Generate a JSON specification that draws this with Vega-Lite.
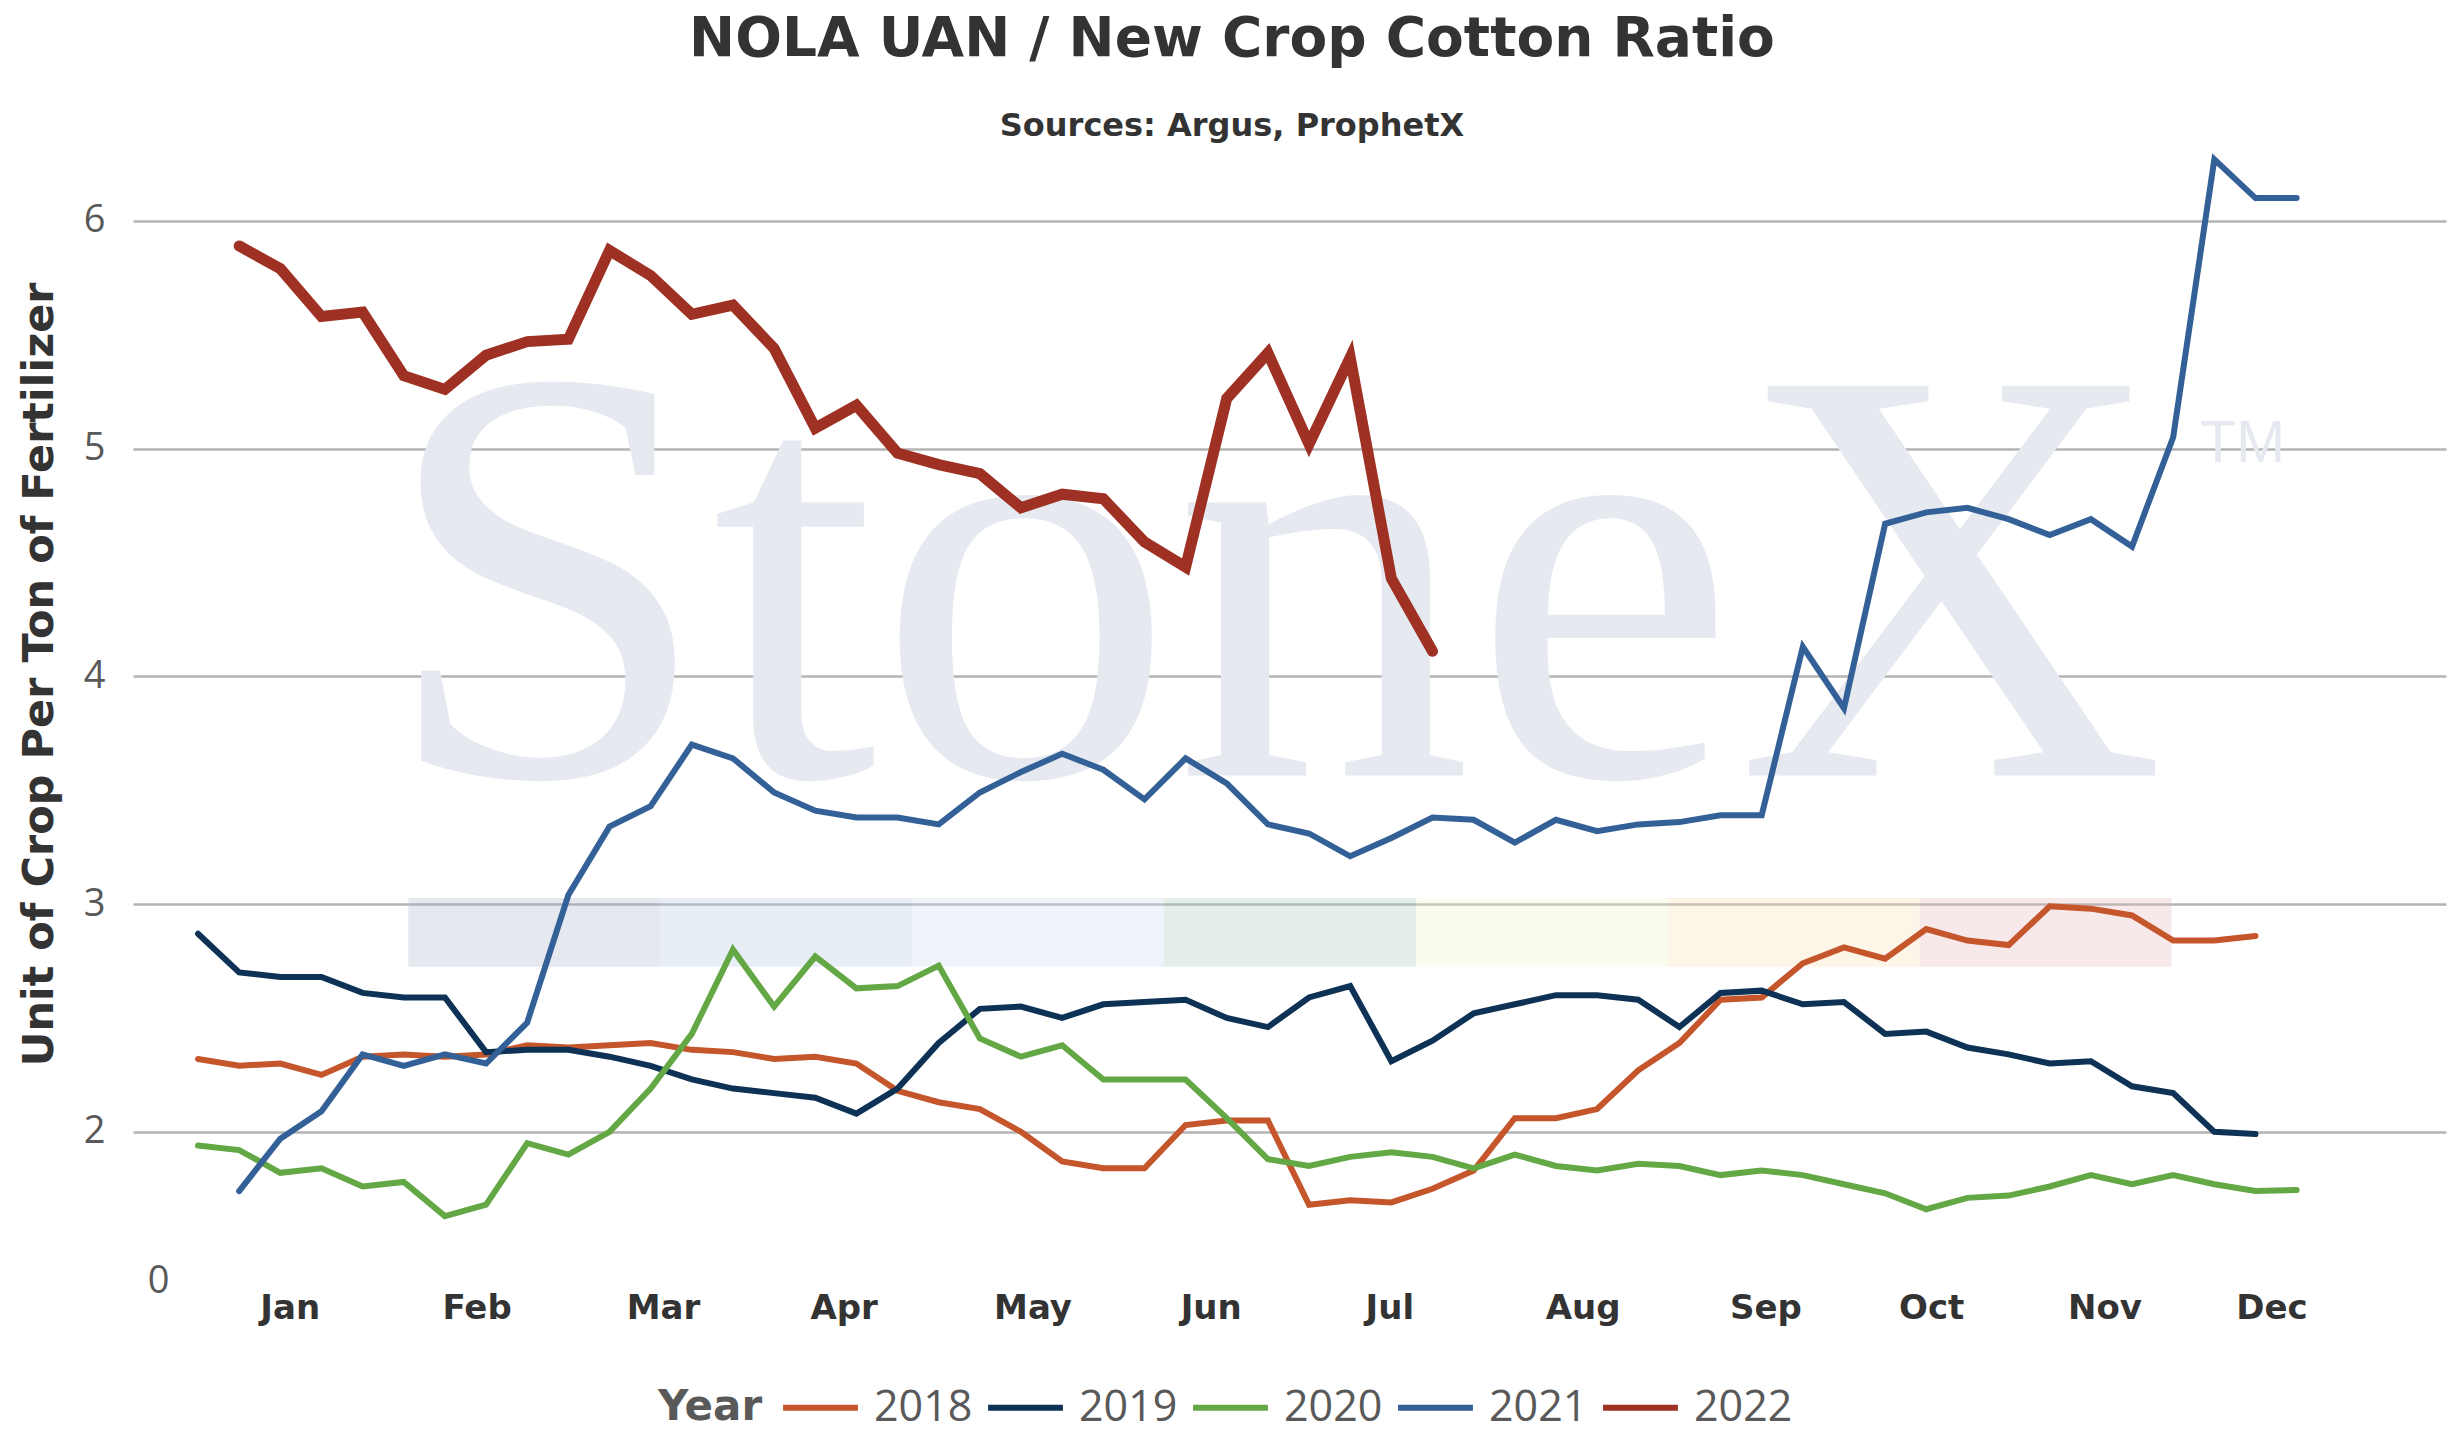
{
  "$schema": "https://vega.github.io/schema/vega-lite/v6.json",
  "autosize": "none",
  "width": 2313,
  "height": 1133,
  "padding": {"left": 133, "top": 148, "right": 10, "bottom": 176},
  "background": "#ffffff",
  "title": {
    "text": "NOLA UAN / New Crop Cotton Ratio",
    "subtitle": "Sources: Argus, ProphetX",
    "font": "DejaVu Sans",
    "fontSize": 55,
    "fontWeight": "bold",
    "color": "#333333",
    "subtitleFont": "DejaVu Sans",
    "subtitleFontSize": 32,
    "subtitleFontWeight": "bold",
    "subtitleColor": "#333333",
    "subtitlePadding": 43,
    "anchor": "middle",
    "frame": "bounds",
    "offset": 4
  },
  "config": {
    "view": {"stroke": null},
    "axis": {"domain": false, "ticks": false}
  },
  "datasets": {
    "ratios": [
      {"week": 1, "2018": 2.32, "2019": 2.87, "2020": 1.94, "2021": null, "2022": null},
      {"week": 2, "2018": 2.29, "2019": 2.70, "2020": 1.92, "2021": 1.74, "2022": 5.89},
      {"week": 3, "2018": 2.30, "2019": 2.68, "2020": 1.82, "2021": 1.97, "2022": 5.79},
      {"week": 4, "2018": 2.25, "2019": 2.68, "2020": 1.84, "2021": 2.09, "2022": 5.58},
      {"week": 5, "2018": 2.33, "2019": 2.61, "2020": 1.76, "2021": 2.34, "2022": 5.60},
      {"week": 6, "2018": 2.34, "2019": 2.59, "2020": 1.78, "2021": 2.29, "2022": 5.32},
      {"week": 7, "2018": 2.33, "2019": 2.59, "2020": 1.63, "2021": 2.34, "2022": 5.26},
      {"week": 8, "2018": 2.34, "2019": 2.35, "2020": 1.68, "2021": 2.30, "2022": 5.41},
      {"week": 9, "2018": 2.38, "2019": 2.36, "2020": 1.95, "2021": 2.48, "2022": 5.47},
      {"week": 10, "2018": 2.37, "2019": 2.36, "2020": 1.90, "2021": 3.04, "2022": 5.48},
      {"week": 11, "2018": 2.38, "2019": 2.33, "2020": 2.00, "2021": 3.34, "2022": 5.87},
      {"week": 12, "2018": 2.39, "2019": 2.29, "2020": 2.19, "2021": 3.43, "2022": 5.76},
      {"week": 13, "2018": 2.36, "2019": 2.23, "2020": 2.43, "2021": 3.70, "2022": 5.59},
      {"week": 14, "2018": 2.35, "2019": 2.19, "2020": 2.80, "2021": 3.64, "2022": 5.63},
      {"week": 15, "2018": 2.32, "2019": 2.17, "2020": 2.55, "2021": 3.49, "2022": 5.44},
      {"week": 16, "2018": 2.33, "2019": 2.15, "2020": 2.77, "2021": 3.41, "2022": 5.09},
      {"week": 17, "2018": 2.30, "2019": 2.08, "2020": 2.63, "2021": 3.38, "2022": 5.19},
      {"week": 18, "2018": 2.18, "2019": 2.19, "2020": 2.64, "2021": 3.38, "2022": 4.98},
      {"week": 19, "2018": 2.13, "2019": 2.39, "2020": 2.73, "2021": 3.35, "2022": 4.93},
      {"week": 20, "2018": 2.10, "2019": 2.54, "2020": 2.41, "2021": 3.49, "2022": 4.89},
      {"week": 21, "2018": 2.00, "2019": 2.55, "2020": 2.33, "2021": 3.58, "2022": 4.74},
      {"week": 22, "2018": 1.87, "2019": 2.50, "2020": 2.38, "2021": 3.66, "2022": 4.80},
      {"week": 23, "2018": 1.84, "2019": 2.56, "2020": 2.23, "2021": 3.59, "2022": 4.78},
      {"week": 24, "2018": 1.84, "2019": 2.57, "2020": 2.23, "2021": 3.46, "2022": 4.59},
      {"week": 25, "2018": 2.03, "2019": 2.58, "2020": 2.23, "2021": 3.64, "2022": 4.48},
      {"week": 26, "2018": 2.05, "2019": 2.50, "2020": 2.06, "2021": 3.53, "2022": 5.22},
      {"week": 27, "2018": 2.05, "2019": 2.46, "2020": 1.88, "2021": 3.35, "2022": 5.42},
      {"week": 28, "2018": 1.68, "2019": 2.59, "2020": 1.85, "2021": 3.31, "2022": 5.02},
      {"week": 29, "2018": 1.70, "2019": 2.64, "2020": 1.89, "2021": 3.21, "2022": 5.40},
      {"week": 30, "2018": 1.69, "2019": 2.31, "2020": 1.91, "2021": 3.29, "2022": 4.43},
      {"week": 31, "2018": 1.75, "2019": 2.40, "2020": 1.89, "2021": 3.38, "2022": 4.11},
      {"week": 32, "2018": 1.83, "2019": 2.52, "2020": 1.84, "2021": 3.37, "2022": null},
      {"week": 33, "2018": 2.06, "2019": 2.56, "2020": 1.90, "2021": 3.27, "2022": null},
      {"week": 34, "2018": 2.06, "2019": 2.60, "2020": 1.85, "2021": 3.37, "2022": null},
      {"week": 35, "2018": 2.10, "2019": 2.60, "2020": 1.83, "2021": 3.32, "2022": null},
      {"week": 36, "2018": 2.27, "2019": 2.58, "2020": 1.86, "2021": 3.35, "2022": null},
      {"week": 37, "2018": 2.39, "2019": 2.46, "2020": 1.85, "2021": 3.36, "2022": null},
      {"week": 38, "2018": 2.58, "2019": 2.61, "2020": 1.81, "2021": 3.39, "2022": null},
      {"week": 39, "2018": 2.59, "2019": 2.62, "2020": 1.83, "2021": 3.39, "2022": null},
      {"week": 40, "2018": 2.74, "2019": 2.56, "2020": 1.81, "2021": 4.13, "2022": null},
      {"week": 41, "2018": 2.81, "2019": 2.57, "2020": 1.77, "2021": 3.86, "2022": null},
      {"week": 42, "2018": 2.76, "2019": 2.43, "2020": 1.73, "2021": 4.67, "2022": null},
      {"week": 43, "2018": 2.89, "2019": 2.44, "2020": 1.66, "2021": 4.72, "2022": null},
      {"week": 44, "2018": 2.84, "2019": 2.37, "2020": 1.71, "2021": 4.74, "2022": null},
      {"week": 45, "2018": 2.82, "2019": 2.34, "2020": 1.72, "2021": 4.69, "2022": null},
      {"week": 46, "2018": 2.99, "2019": 2.30, "2020": 1.76, "2021": 4.62, "2022": null},
      {"week": 47, "2018": 2.98, "2019": 2.31, "2020": 1.81, "2021": 4.69, "2022": null},
      {"week": 48, "2018": 2.95, "2019": 2.20, "2020": 1.77, "2021": 4.57, "2022": null},
      {"week": 49, "2018": 2.84, "2019": 2.17, "2020": 1.81, "2021": 5.05, "2022": null},
      {"week": 50, "2018": 2.84, "2019": 2.00, "2020": 1.77, "2021": 6.27, "2022": null},
      {"week": 51, "2018": 2.86, "2019": 1.99, "2020": 1.74, "2021": 6.10, "2022": null},
      {"week": 52, "2018": null, "2019": null, "2020": 1.745, "2021": 6.10, "2022": null}
    ],
    "bands": [
      {"seg": "a", "start": 6.11, "end": 12.22},
      {"seg": "b", "start": 12.22, "end": 18.35},
      {"seg": "c", "start": 18.35, "end": 24.47},
      {"seg": "d", "start": 24.47, "end": 30.6},
      {"seg": "e", "start": 30.6, "end": 36.72},
      {"seg": "f", "start": 36.72, "end": 42.84},
      {"seg": "g", "start": 42.84, "end": 48.96}
    ]
  },
  "layer": [
    {
      "data": {"values": [{"mark": "StoneX", "week": 27.13, "ratio": 3.565}]},
      "mark": {"type": "text", "font": "Liberation Serif", "fontSize": 595, "color": "#e6eaf0", "align": "center", "baseline": "alphabetic"},
      "encoding": {
        "x": {"field": "week", "type": "quantitative", "scale": {"domain": [-0.58, 55.63], "nice": false, "zero": false}},
        "y": {"field": "ratio", "type": "quantitative", "scale": {"domain": [1.345, 6.32], "nice": false, "zero": false}},
        "text": {"field": "mark"}
      }
    },
    {
      "data": {"values": [{"mark": "TM", "week": 49.65, "ratio": 4.94}]},
      "mark": {"type": "text", "font": "Liberation Sans", "fontSize": 59, "color": "#e6eaf0", "align": "left", "baseline": "alphabetic"},
      "encoding": {
        "x": {"field": "week", "type": "quantitative"},
        "y": {"field": "ratio", "type": "quantitative"},
        "text": {"field": "mark"}
      }
    },
    {
      "data": {"name": "bands"},
      "mark": {"type": "rect", "fillOpacity": 0.3, "strokeWidth": 0},
      "encoding": {
        "x": {"field": "start", "type": "quantitative"},
        "x2": {"field": "end"},
        "y": {"datum": 3.027, "type": "quantitative"},
        "y2": {"datum": 2.725},
        "fill": {
          "field": "seg",
          "type": "nominal",
          "legend": null,
          "scale": {
            "domain": ["a", "b", "c", "d", "e", "f", "g"],
            "range": ["#a8b6ca", "#b2c6e1", "#cadaee", "#a8cab9", "#f2f2ca", "#f8deb2", "#e4b2b6"]
          }
        }
      }
    },
    {
      "data": {"name": "ratios"},
      "transform": [
        {"fold": ["2018", "2019", "2020", "2021", "2022"], "as": ["Year", "ratio"]},
        {"filter": "datum.ratio != null"}
      ],
      "mark": {"type": "line", "strokeCap": "round"},
      "encoding": {
        "x": {
          "field": "week",
          "type": "quantitative",
          "axis": {
            "title": null,
            "grid": false,
            "values": [3.23, 7.77, 12.3, 16.69, 21.28, 25.61, 29.95, 34.65, 39.09, 43.12, 47.33, 51.39],
            "labelExpr": "['Jan','Feb','Mar','Apr','May','Jun','Jul','Aug','Sep','Oct','Nov','Dec'][floor((datum.value - 1) / 4.35)]",
            "labelFont": "DejaVu Sans",
            "labelFontSize": 34,
            "labelFontWeight": "bold",
            "labelColor": "#333333",
            "labelBaseline": "middle",
            "labelPadding": 27,
            "labelFlush": false,
            "labelOverlap": false
          }
        },
        "y": {
          "field": "ratio",
          "type": "quantitative",
          "axis": {
            "title": "Unit of Crop Per Ton of Fertilizer",
            "titleFont": "DejaVu Sans",
            "titleFontSize": 43,
            "titleFontWeight": "bold",
            "titleColor": "#333333",
            "titleAngle": 270,
            "titleAlign": "center",
            "titleBaseline": "alphabetic",
            "titleX": -81,
            "titleY": 526,
            "values": [1.345, 2, 3, 4, 5, 6],
            "labelExpr": "datum.value < 1.5 ? '0' : format(datum.value, 'd')",
            "labelFont": "Open Sans",
            "labelFontSize": 38,
            "labelColor": "#595959",
            "labelAlign": "right",
            "labelBaseline": "middle",
            "labelFlush": false,
            "labelOverlap": false,
            "labelPadding": {"condition": {"test": "datum.value < 1.5", "value": -36}, "value": 28},
            "grid": true,
            "gridColor": "#b3b3b3",
            "gridWidth": 2.5,
            "gridOpacity": {"condition": {"test": "datum.value < 1.5", "value": 0}, "value": 1}
          }
        },
        "color": {
          "field": "Year",
          "type": "nominal",
          "scale": {
            "domain": ["2018", "2019", "2020", "2021", "2022"],
            "range": ["#c5552b", "#0d3255", "#63a845", "#336197", "#9e3124"]
          },
          "legend": {
            "orient": "none",
            "legendX": 525,
            "legendY": 1219,
            "direction": "horizontal",
            "title": "Year",
            "titleOrient": "left",
            "titleAnchor": "middle",
            "titleBaseline": "line-top",
            "titleLineHeight": 19,
            "titleFont": "DejaVu Sans",
            "titleFontSize": 42,
            "titleFontWeight": "bold",
            "titleColor": "#595959",
            "titlePadding": 17,
            "labelFont": "Open Sans",
            "labelFontSize": 43,
            "labelColor": "#595959",
            "labelOffset": 13,
            "columnPadding": 3,
            "symbolType": "stroke",
            "symbolSize": 5600,
            "symbolStrokeWidth": 6
          }
        },
        "strokeWidth": {"condition": {"test": "datum.Year == '2022'", "value": 11}, "value": 6}
      }
    }
  ]
}
